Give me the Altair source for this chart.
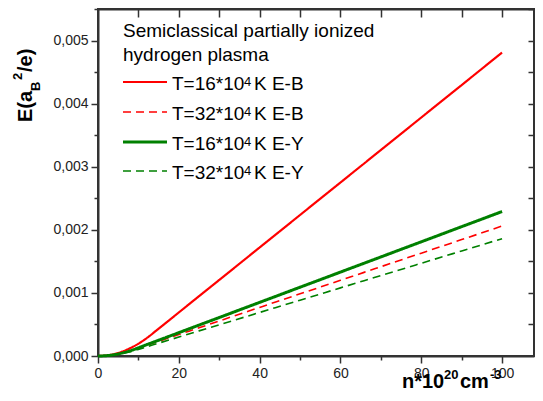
import altair as alt
import pandas as pd

# ---- data ----
density = [0, 2, 4, 6, 8, 10, 12, 15, 20, 25, 30, 40, 50, 60, 70, 80, 90, 100]
t16_eb = [0.0, 0.0000078, 0.000031, 0.000070, 0.000125, 0.000195, 0.000281, 0.000433, 0.000690, 0.000948,
          0.001205, 0.00172, 0.002235, 0.00275, 0.003265, 0.00378, 0.004295, 0.00481]
t32_eb = [0.0, 0.000005, 0.000020, 0.000046, 0.000082, 0.000125, 0.000168, 0.000232, 0.000340, 0.000447,
          0.000555, 0.00077, 0.000985, 0.00120, 0.001415, 0.00163, 0.001845, 0.00206]
t16_ey = [0.0, 0.0000052, 0.000021, 0.000047, 0.000083, 0.000130, 0.000178, 0.000250, 0.000370, 0.000490,
          0.000610, 0.00085, 0.00109, 0.00133, 0.00157, 0.00181, 0.00205, 0.00229]
t32_ey = [0.0, 0.0000042, 0.000017, 0.000038, 0.000068, 0.000105, 0.000144, 0.000203, 0.000300, 0.000398,
          0.000495, 0.00069, 0.000885, 0.00108, 0.001275, 0.00147, 0.001665, 0.00186]

series_keys = ["t16_eb", "t32_eb", "t16_ey", "t32_ey"]
series_values = [t16_eb, t32_eb, t16_ey, t32_ey]
legend_main = ["T=16*10", "T=32*10", "T=16*10", "T=32*10"]
legend_sup = ["4", "4", "4", "4"]
legend_tail = ["K E-B", "K E-B", "K E-Y", "K E-Y"]
legend_title = ["Semiclassical partially ionized", "hydrogen plasma"]

x_ticks = [0, 10, 20, 30, 40, 50, 60, 70, 80, 90, 100]
y_ticks = [0, 0.0005, 0.001, 0.0015, 0.002, 0.0025, 0.003, 0.0035, 0.004, 0.0045, 0.005, 0.0055]
x_max = 107.9
y_max = 0.0055

# ---- styling ----
FONT = "Liberation Sans"
colors = ["#ff0000", "#ff0000", "#008000", "#008000"]
widths = [2.2, 1.6, 3.0, 1.6]
dashes = [[1, 0], [8, 5], [1, 0], [8, 5]]
AX = "#333333"

rows = []
for key, vals in zip(series_keys, series_values):
    for n, e in zip(density, vals):
        rows.append({"n": n, "E": e, "s": key})
df = pd.DataFrame(rows)
one = pd.DataFrame({"k": [0]})

xscale = alt.Scale(domain=[0, x_max], nice=False, zero=False)
yscale = alt.Scale(domain=[0, y_max], nice=False, zero=False)

y_major = "abs(datum.value*1000 - round(datum.value*1000)) < 0.01"
x_major = "datum.value % 20 == 0"

common_axis = dict(grid=False, title=None, labelFont=FONT, labelFontSize=14, labelColor="#222222",
                   domainColor=AX, domainWidth=2, tickColor=AX, tickWidth=1.5,
                   labelFlush=False, labelOverlap=False)

x_axis = alt.Axis(orient="bottom", values=x_ticks,
                  labelExpr=f"{x_major} ? format(datum.value, 'd') : ''",
                  tickSize={"condition": {"test": x_major, "value": 7}, "value": 4},
                  labelPadding=3, **common_axis)
y_axis = alt.Axis(orient="left", values=y_ticks,
                  labelExpr=f"{y_major} ? replace(format(datum.value, '.3f'), '.', ',') : ''",
                  tickSize={"condition": {"test": y_major, "value": 7}, "value": 4},
                  labelPadding=3, **common_axis)

x_top = alt.Axis(orient="top", values=x_ticks[1:], labels=False, tickSize={"expr": "-8"},
                 grid=False, title=None, domainColor=AX, domainWidth=2, tickColor=AX, tickWidth=1.5)
y_right = alt.Axis(orient="right", values=y_ticks[1:], labels=False, tickSize={"expr": "-6"},
                   grid=False, title=None, domainColor=AX, domainWidth=2, tickColor=AX, tickWidth=1.5)

line_layers = []
for i, key in enumerate(series_keys):
    ax_x = x_axis if i == 0 else None
    ax_y = y_axis if i == 0 else None
    line_layers.append(
        alt.Chart(df).transform_filter(alt.datum.s == key)
        .mark_line(color=colors[i], strokeWidth=widths[i], strokeDash=dashes[i], interpolate="monotone")
        .encode(x=alt.X("n:Q", scale=xscale, axis=ax_x),
                y=alt.Y("E:Q", scale=yscale, axis=ax_y))
    )

mirror = alt.Chart(df).mark_line(strokeOpacity=0).encode(
    x=alt.X("n:Q", scale=xscale, axis=x_top),
    y=alt.Y("E:Q", scale=yscale, axis=y_right),
)


def txt(s, x, y, size, weight="normal", angle=0):
    return alt.Chart(one).mark_text(
        text=s, fontSize=size, fontWeight=weight, angle=angle, align="left",
        baseline="alphabetic", font=FONT, color="#000000"
    ).encode(x=alt.value(x), y=alt.value(y))


texts = [
    txt(legend_title[0], 25, 28, 19),
    txt(legend_title[1], 25, 52, 19),
]
legend_y = [73, 103, 133, 162]
for i in range(4):
    ly = legend_y[i]
    texts.append(
        alt.Chart(one).mark_rule(color=colors[i], strokeWidth=widths[i], strokeDash=dashes[i])
        .encode(x=alt.value(25), x2=alt.value(69), y=alt.value(ly))
    )
    texts.append(txt(legend_main[i], 74, ly + 8.3, 19))
    texts.append(txt(legend_sup[i], 146, ly + 4.0, 13))
    texts.append(txt(legend_tail[i], 156, ly + 8.3, 19))

# y axis title  E(a_B ^2/e)
texts += [
    txt("E(a", -66, 113, 20, "bold", 270),
    txt("B", -58, 82, 13, "bold", 270),
    txt("2", -76, 71, 13, "bold", 270),
    txt("/e)", -66, 63, 20, "bold", 270),
]
# x axis title  n*10^20 cm^-3
TY = 379
texts += [
    txt("n*10", 304, TY, 20, "bold"),
    txt("20", 346, TY - 9, 13, "bold"),
    txt("cm", 362, TY, 20, "bold"),
    txt("-3", 392, TY - 9, 13, "bold"),
]

chart = alt.layer(*line_layers, mirror, *texts).resolve_axis(
    x="independent", y="independent"
).properties(
    width=436, height=347,
    autosize=alt.AutoSizeParams(type="none"),
    padding={"left": 90, "top": 1, "right": 1, "bottom": 33},
    background="white",
).configure_view(stroke=AX, strokeWidth=2)

chart.save("out.html", embed_options={"renderer": "svg", "actions": False})
